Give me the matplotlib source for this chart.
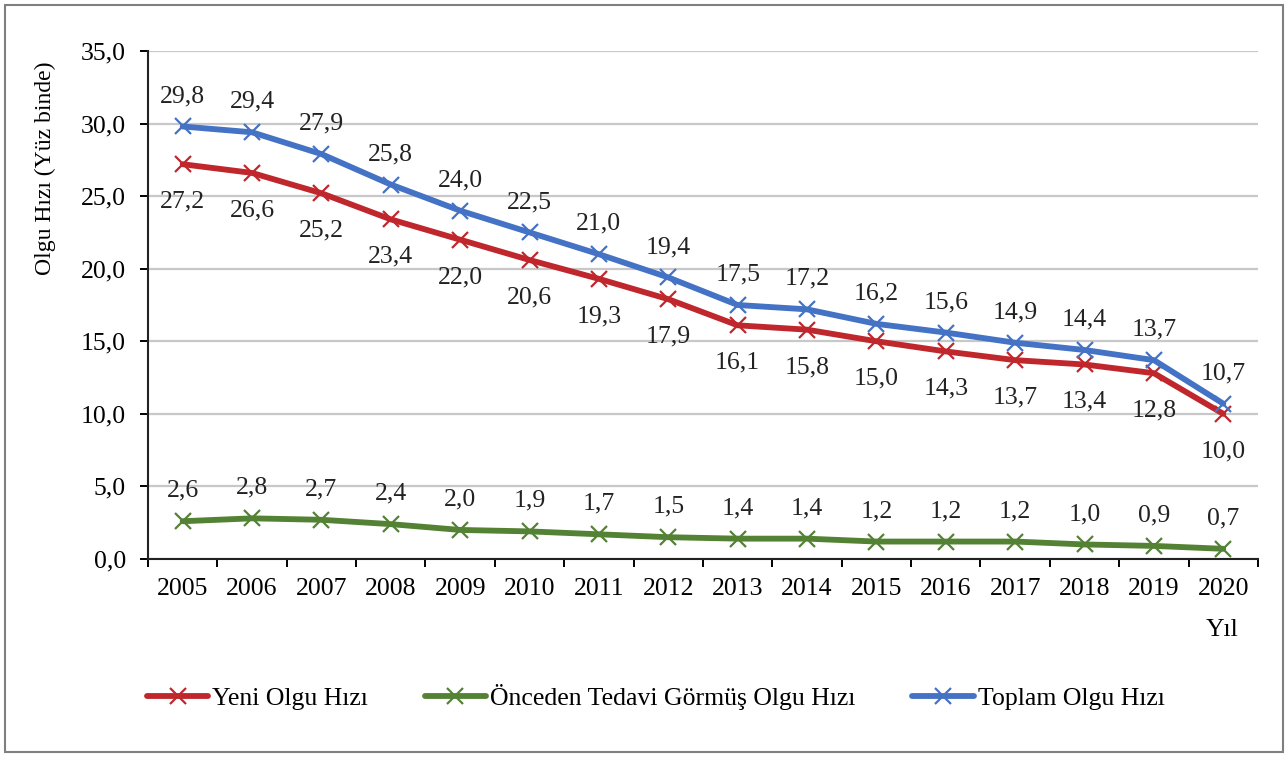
import matplotlib
matplotlib.use('Agg')
from matplotlib import pyplot as plt
from matplotlib.patches import Rectangle
import numpy as np

plt.rcParams['font.family'] = ['Liberation Serif', 'DejaVu Serif']

# Data
years = ['2005', '2006', '2007', '2008', '2009', '2010', '2011', '2012',
         '2013', '2014', '2015', '2016', '2017', '2018', '2019', '2020']
toplam = [29.8, 29.4, 27.9, 25.8, 24.0, 22.5, 21.0, 19.4,
          17.5, 17.2, 16.2, 15.6, 14.9, 14.4, 13.7, 10.7]
yeni = [27.2, 26.6, 25.2, 23.4, 22.0, 20.6, 19.3, 17.9,
        16.1, 15.8, 15.0, 14.3, 13.7, 13.4, 12.8, 10.0]
onceden = [2.6, 2.8, 2.7, 2.4, 2.0, 1.9, 1.7, 1.5,
           1.4, 1.4, 1.2, 1.2, 1.2, 1.0, 0.9, 0.7]


def fmt(v):
    return '{:.1f}'.format(v).replace('.', ',')


FS = 18.5
fig = plt.figure(figsize=(12.88, 7.57), dpi=100)
ax = fig.add_axes([0.1149, 0.2616, 0.8618, 0.671])

x = np.arange(len(years))
red = '#C0272D'
green = '#548235'
blue = '#4472C4'

series = [
    (yeni, red, 'Yeni Olgu Hızı', -19),
    (onceden, green, 'Önceden Tedavi Görmüş Olgu Hızı', 14),
    (toplam, blue, 'Toplam Olgu Hızı', 14),
]
for vals, col, name, off in series:
    ax.plot(x, vals, '-', color=col, lw=4.2, marker='x', ms=11, mew=1.6,
            label=name, solid_capstyle='round')
    for xi, v in zip(x, vals):
        va = 'bottom' if off > 0 else 'top'
        ax.annotate(fmt(v), (xi, v), xytext=(0, off), textcoords='offset points',
                    ha='center', va=va, fontsize=FS, color='#222222')

ax.set_xlim(-0.5, len(years) - 0.5)
ax.set_ylim(0, 35)
ax.set_yticks(np.arange(0, 35.1, 5))
ax.set_yticklabels([fmt(v) for v in np.arange(0, 35.1, 5)], fontsize=FS)
ax.set_xticks(x)
ax.set_xticklabels(years, fontsize=FS)
ax.set_xticks(np.arange(-0.5, len(years)), minor=True)
ax.tick_params(axis='x', which='major', length=0, pad=14)
ax.tick_params(axis='x', which='minor', length=5.5, width=1.4, direction='out')
ax.tick_params(axis='y', length=6, width=1.4, direction='out', pad=10)
ax.yaxis.grid(True, color='#C8C8C8', lw=1.6)
ax.set_axisbelow(True)
for s in ['top', 'right']:
    ax.spines[s].set_visible(False)
for s in ['left', 'bottom']:
    ax.spines[s].set_linewidth(1.5)
    ax.spines[s].set_color('#222222')

fig.text(45 / 1288, 1 - 168 / 757, 'Olgu Hızı (Yüz binde)', rotation=90,
         ha='center', va='center', fontsize=17)
fig.text(1222 / 1288, 1 - 630 / 757, 'Yıl', ha='center', va='center',
         fontsize=FS)

fig.legend(loc='center', bbox_to_anchor=(0.509, 1 - 697 / 757), ncol=3,
           frameon=False, fontsize=FS, handlelength=2.4, columnspacing=2.2,
           handletextpad=0.15)

fig.patches.append(Rectangle((5 / 1288, 5 / 757), 1278 / 1288, 747 / 757,
                             transform=fig.transFigure, fill=False,
                             edgecolor='#7F7F7F', lw=1.5))

fig.savefig('out.png', dpi=100)
